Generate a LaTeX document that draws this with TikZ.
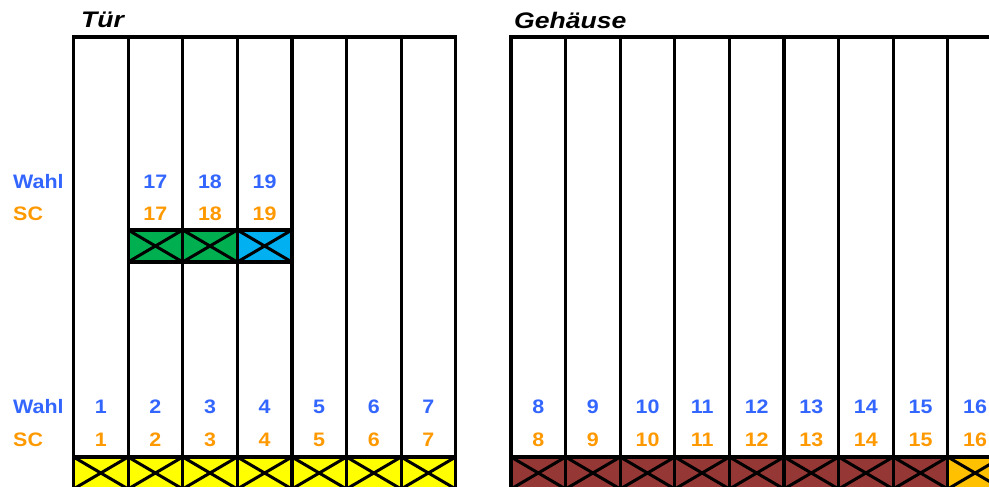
\documentclass[tikz,border=0pt]{standalone}
\usepackage{fontspec}
\setmainfont{Liberation Sans}
\definecolor{wblue}{RGB}{51,102,255}
\definecolor{sorange}{RGB}{255,153,0}
\definecolor{byellow}{RGB}{255,255,0}
\definecolor{bgreen}{RGB}{0,176,80}
\definecolor{bblue}{RGB}{0,176,240}
\definecolor{bbrown}{RGB}{149,55,53}
\definecolor{borange}{RGB}{255,192,0}
\begin{document}
\begin{tikzpicture}[x=1pt,y=-1pt,
  gridline/.style={line width=3.2pt, line cap=rect},
  xbox/.style={draw, line width=3.2pt, rectangle, minimum width=54.6pt, minimum height=32pt, inner sep=0pt,
    path picture={\draw[line width=3pt] (path picture bounding box.north west) -- (path picture bounding box.south east)
      (path picture bounding box.south west) -- (path picture bounding box.north east);}},
  lbl/.style={font=\fontsize{19.5}{19.5}\selectfont\bfseries, xscale=1.1, inner sep=0pt},
  wahl/.style={lbl, text=wblue},
  sc/.style={lbl, text=sorange},
  ttl/.style={font=\fontsize{22.5}{22.5}\selectfont\bfseries\itshape, xscale=1.18, inner sep=0pt, anchor=west}
]
\clip (0,0) rectangle (989,487);
\fill[white] (0,0) rectangle (989,487);
% titles
\node[ttl] (tuer) at (81,20) {Tür};
\node[ttl] (gehaeuse) at (514,20) {Gehäuse};
% left group grid
\def\cw{54.6}
\foreach \i in {0,...,7} {
  \pgfmathsetmacro\xx{73.5+\cw*\i}
  \coordinate (lt\i) at (\xx,37);
  \coordinate (lb\i) at (\xx,487);
  \draw[gridline] (lt\i) -- (lb\i);
}
\draw[gridline] (lt0) -- (lt7);
% right group grid
\foreach \i in {0,...,9} {
  \pgfmathsetmacro\xx{511+\cw*\i}
  \coordinate (rt\i) at (\xx,37);
  \coordinate (rb\i) at (\xx,487);
  \draw[gridline] (rt\i) -- (rb\i);
}
\draw[gridline] (rt0) -- (rt9);
% row labels
\node[wahl, anchor=west] (wahlA) at (13,182) {Wahl};
\node[sc, anchor=west] (scA) at (13,214) {SC};
\node[wahl, anchor=west] (wahlB) at (13,407) {Wahl};
\node[sc, anchor=west] (scB) at (13,440) {SC};
% upper boxes
\node[xbox, fill=bgreen] (u17) at (73.5+\cw*1.5,246) {};
\node[xbox, fill=bgreen] (u18) at (73.5+\cw*2.5,246) {};
\node[xbox, fill=bblue] (u19) at (73.5+\cw*3.5,246) {};
\foreach \n/\c in {17/1,18/2,19/3} {
  \node[wahl] (wu\n) at (73.5+\cw*\c+\cw/2,182) {\n};
  \node[sc] (su\n) at (73.5+\cw*\c+\cw/2,214) {\n};
}
% lower boxes left
\foreach \c in {0,...,6} {
  \pgfmathtruncatemacro\n{\c+1}
  \node[xbox, fill=byellow] (b\n) at (73.5+\cw*\c+\cw/2,473) {};
  \node[wahl] (w\n) at (73.5+\cw*\c+\cw/2,407) {\n};
  \node[sc] (s\n) at (73.5+\cw*\c+\cw/2,440) {\n};
}
% lower boxes right
\foreach \c in {0,...,8} {
  \pgfmathtruncatemacro\n{\c+8}
  \ifnum\n=16
    \node[xbox, fill=borange] (b\n) at (511+\cw*\c+\cw/2,473) {};
  \else
    \node[xbox, fill=bbrown] (b\n) at (511+\cw*\c+\cw/2,473) {};
  \fi
  \node[wahl] (w\n) at (511+\cw*\c+\cw/2,407) {\n};
  \node[sc] (s\n) at (511+\cw*\c+\cw/2,440) {\n};
}
\end{tikzpicture}
\end{document}
